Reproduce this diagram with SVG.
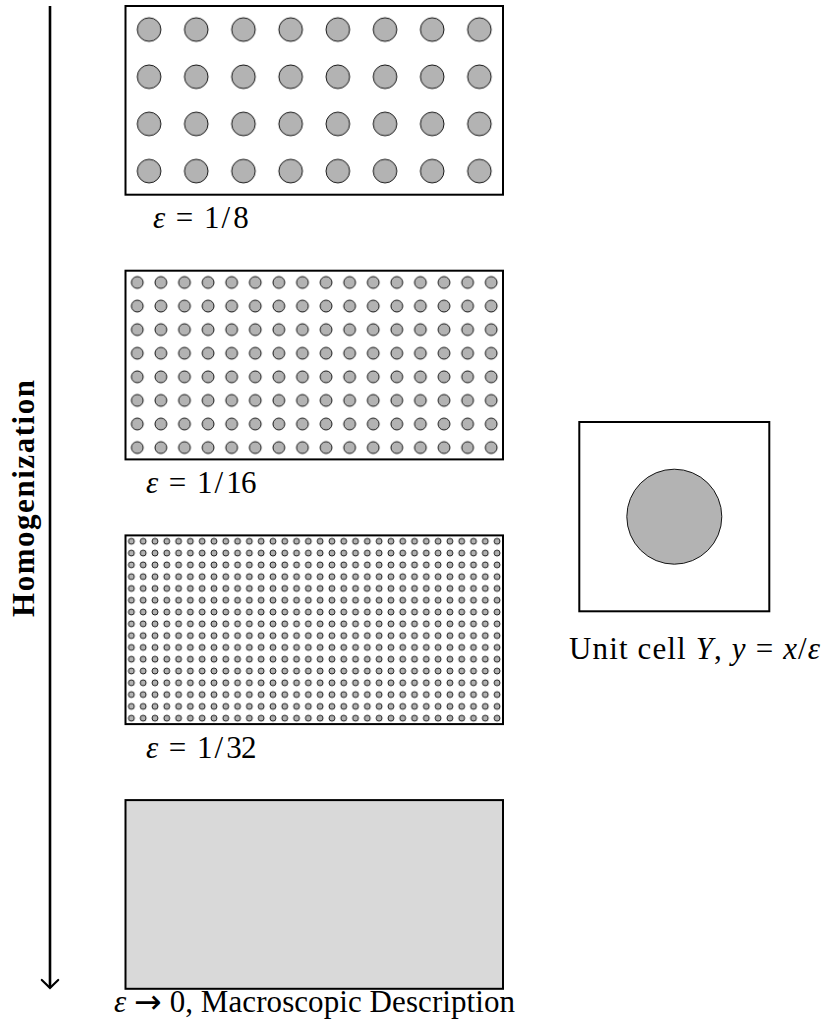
<svg xmlns="http://www.w3.org/2000/svg" width="824" height="1026" viewBox="0 0 824 1026">
<style>
.frame{fill:none;stroke:#000;stroke-width:2}
.dot{fill:#b3b3b3;stroke:#000;stroke-width:0.9}
.lbl{font-family:"Liberation Serif",serif;font-size:31px;fill:#000}
.it{font-style:italic}
.sym{font-family:"DejaVu Sans",sans-serif;font-size:33px}
.axis{stroke:#000;stroke-width:2.6;fill:none}
</style>
<defs>
<pattern id="p8" patternUnits="userSpaceOnUse" x="125.5" y="6" width="47.1875" height="47.175"><circle cx="23.594" cy="23.588" r="11.8" class="dot"/></pattern>
<pattern id="p16" patternUnits="userSpaceOnUse" x="125.5" y="270.7" width="23.594" height="23.588"><circle cx="11.797" cy="11.794" r="5.9" class="dot"/></pattern>
<pattern id="p32" patternUnits="userSpaceOnUse" x="125.5" y="535.4" width="11.797" height="11.794"><circle cx="5.898" cy="5.897" r="2.95" class="dot" style="stroke-width:0.85"/></pattern>
<marker id="arr" markerUnits="userSpaceOnUse" viewBox="-12 -12 24 24" markerWidth="24" markerHeight="24" refX="0" refY="0" orient="auto" overflow="visible">
<path d="M-8,-8.2 Q-3,-3 0,0 Q-3,3 -8,8.2" fill="none" stroke="#000" stroke-width="2.2" stroke-linecap="round"/>
</marker>
</defs>

<g id="connectors">
<line class="axis" x1="50" y1="6" x2="50" y2="988" marker-end="url(#arr)"/>
</g>

<g id="axis-label">
<text class="lbl" font-weight="bold" transform="translate(34,498.5) rotate(-90)" text-anchor="middle" textLength="237" lengthAdjust="spacing" style="font-size:31px">Homogenization</text>
</g>

<g id="eps8">
<rect x="125.5" y="6" width="377.5" height="188.7" fill="url(#p8)"/>
<rect class="frame" x="125.5" y="6" width="377.5" height="188.7"/>
<text class="lbl" y="228"><tspan class="it" x="153">ε</tspan><tspan x="175.7">=</tspan><tspan x="204">1</tspan><tspan x="221.6">/</tspan><tspan x="233.3">8</tspan></text>
</g>

<g id="eps16">
<rect x="125.5" y="270.7" width="377.5" height="188.7" fill="url(#p16)"/>
<rect class="frame" x="125.5" y="270.7" width="377.5" height="188.7"/>
<text class="lbl" y="493"><tspan class="it" x="146">ε</tspan><tspan x="168.7">=</tspan><tspan x="197">1</tspan><tspan x="214.6">/</tspan><tspan x="226.3">1</tspan><tspan x="240.9">6</tspan></text>
</g>

<g id="eps32">
<rect x="125.5" y="535.4" width="377.5" height="188.7" fill="url(#p32)"/>
<rect class="frame" x="125.5" y="535.4" width="377.5" height="188.7"/>
<text class="lbl" y="758"><tspan class="it" x="146">ε</tspan><tspan x="168.7">=</tspan><tspan x="197">1</tspan><tspan x="214.6">/</tspan><tspan x="226.3">3</tspan><tspan x="240.9">2</tspan></text>
</g>

<g id="macro">
<rect class="frame" x="125.5" y="800.1" width="377.5" height="188.7" style="fill:#d9d9d9"/>
<text class="lbl" x="114" y="1012" textLength="401" lengthAdjust="spacing"><tspan class="it">ε</tspan> <tspan class="sym" dy="1">→</tspan><tspan dy="-1"> 0, Macroscopic Description</tspan></text>
</g>

<g id="unit-cell">
<rect class="frame" x="579.3" y="422" width="190" height="189.3" style="fill:#fff"/>
<circle class="dot" cx="674.3" cy="516.7" r="47.5"/>
<text class="lbl" x="569" y="659" textLength="251" lengthAdjust="spacing">Unit cell <tspan class="it">Y</tspan>, <tspan class="it">y</tspan> = <tspan class="it">x</tspan>/<tspan class="it">ε</tspan></text>
</g>
</svg>
